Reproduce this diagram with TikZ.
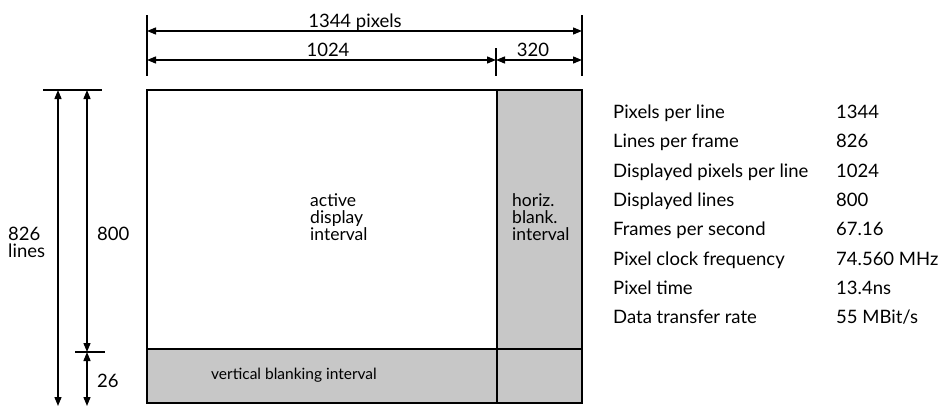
\documentclass[tikz,border=0pt]{standalone}
\usepackage{fontspec}
\setmainfont{Lato}
\usetikzlibrary{arrows.meta}
\begin{document}
\begin{tikzpicture}[x=1pt,y=-1pt,
  dim/.style={line width=1.3pt,{Triangle[width=7pt,length=9pt]}-{Triangle[width=7pt,length=9pt]}},
  tick/.style={line width=1.3pt},
  lbl/.style={font=\fontsize{18.5}{19}\selectfont,inner sep=0pt},
  reg/.style={font=\fontsize{17.5}{20}\selectfont,inner sep=0pt,align=left,anchor=west},
  tbl/.style={font=\fontsize{18.5}{19}\selectfont,inner sep=0pt,anchor=base west},
  blank/.style={fill=black!22}]
\useasboundingbox (0,0) rectangle (951,407);
% coordinates
\coordinate (TL) at (147,90);
\coordinate (BR) at (582,403);
\coordinate (VD) at (497,90);
\coordinate (VDb) at (497,403);
\coordinate (HD) at (147,349);
\coordinate (HDr) at (582,349);
% shaded areas
\fill[blank] (HD) rectangle (BR);
\fill[blank] (VD) rectangle (BR);
\draw[line width=1.8pt] (TL) rectangle (BR);
\draw[line width=1.4pt] (VD) -- (VDb);
\draw[line width=1.4pt] (HD) -- (HDr);
% top dimension lines
\coordinate (t1a) at (147,15); \coordinate (t1b) at (147,76);
\coordinate (t2a) at (582,15); \coordinate (t2b) at (582,76);
\coordinate (t3a) at (496,48); \coordinate (t3b) at (496,76);
\draw[tick] (t1a) -- (t1b);
\draw[tick] (t2a) -- (t2b);
\draw[tick] (t3a) -- (t3b);
\coordinate (a1) at (147,31); \coordinate (a2) at (582,31);
\coordinate (b1) at (147,60); \coordinate (b2) at (496,60); \coordinate (b3) at (582,60);
\draw[dim] (a1) -- (a2);
\draw[dim] (b1) -- (b2);
\draw[dim] (b2) -- (b3);
\node[lbl,anchor=base] (l1344) at (355,27) {1344 pixels};
\node[lbl,anchor=base] (l1024) at (328,56) {1024};
\node[lbl,anchor=base] (l320) at (533,56) {320};
% left dimension lines
\coordinate (h1) at (43,90); \coordinate (h2) at (102,90);
\draw[tick] (h1) -- (h2);
\coordinate (k1) at (75,352); \coordinate (k2) at (105,352);
\draw[tick] (k1) -- (k2);
\coordinate (v1a) at (58,90); \coordinate (v1b) at (58,406);
\coordinate (v2a) at (87,90); \coordinate (v2b) at (87,352); \coordinate (v2c) at (87,406);
\draw[dim] (v1a) -- (v1b);
\draw[dim] (v2a) -- (v2b);
\draw[dim] (v2b) -- (v2c);
\node[lbl,anchor=base west] (l826) at (8,240) {826};
\node[lbl,anchor=base west] (llines) at (8,257) {lines};
\node[lbl,anchor=base west] (l800) at (97,240) {800};
\node[lbl,anchor=base west] (l26) at (97,387) {26};
% region labels
\node[reg] (act) at (310,217) {active\\[-3pt]display\\[-3pt]interval};
\node[reg] (hb) at (512,217) {horiz.\\[-3pt]blank.\\[-3pt]interval};
\node[lbl,font=\fontsize{15.5}{16}\selectfont,anchor=base] (vb) at (294,379) {vertical blanking interval};
% table
\foreach \y/\a/\b [count=\i] in {118/Pixels per line/1344, 147/Lines per frame/826, 177/Displayed pixels per line/1024, 206/Displayed lines/800, 235/Frames per second/67.16, 265/Pixel clock frequency/74.560 MHz, 294/Pixel time/13.4ns, 323/Data transfer rate/{55 MBit/s}}{
  \node[tbl] (k\i) at (613,\y) {\a};
  \node[tbl] (v\i) at (836,\y) {\b};
}
\end{tikzpicture}
\end{document}
